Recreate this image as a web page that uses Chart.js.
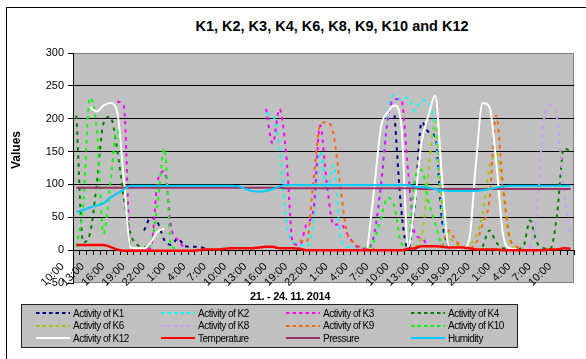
<!DOCTYPE html>
<html>
<head>
<meta charset="utf-8">
<script src="https://cdn.jsdelivr.net/npm/chart.js@4.4.1/dist/chart.umd.min.js"></script>
<style>
  html, body { margin: 0; padding: 0; background: #fff; overflow: hidden; }
  body { width: 586px; height: 359px; position: relative; font-family: "Liberation Sans", Arial, sans-serif; color: #000; }
  .frame { position: absolute; left: 6px; top: 7px; width: 700px; height: 400px; border-left: 1px solid #000; border-top: 1px solid #000; }
  #chart { position: absolute; left: 7px; top: 8px; }
  .chart-title { position: absolute; left: 132px; top: 19px; width: 400px; text-align: center; font-weight: bold; font-size: 14.5px; line-height: 14.5px; white-space: nowrap; }
  .x-title { position: absolute; left: 190px; top: 291px; width: 200px; text-align: center; font-weight: bold; font-size: 11px; line-height: 11px; letter-spacing: -0.3px; white-space: nowrap; }
  .y-title { position: absolute; left: -24px; top: 143px; width: 80px; height: 14px; line-height: 14px; text-align: center; font-weight: bold; font-size: 12px; transform: rotate(-90deg); }
  .legend { position: absolute; left: 21px; top: 304px; width: 495px; height: 42px; background: #c0c0c0; border: 1px solid #222; }
  .legend-item { position: absolute; height: 12px; display: flex; align-items: center; white-space: nowrap; font-size: 10px; letter-spacing: -0.5px; }
  .legend-item span { margin-left: 3px; }
</style>
</head>
<body>
<div class="frame"></div>
<div class="chart-title">K1, K2, K3, K4, K6, K8, K9, K10 and K12</div>
<canvas id="chart" width="579" height="351"></canvas>
<div class="y-title">Values</div>
<div class="x-title">21. - 24. 11. 2014</div>
<div class="legend" id="legend"></div>
<script>
const hours = [
  "10:00", "11:00", "12:00", "13:00", "14:00", "15:00", "16:00", "17:00", "18:00", "19:00",
  "20:00", "21:00", "22:00", "23:00", "0:00", "1:00", "2:00", "3:00", "4:00", "5:00",
  "6:00", "7:00", "8:00", "9:00", "10:00", "11:00", "12:00", "13:00", "14:00", "15:00",
  "16:00", "17:00", "18:00", "19:00", "20:00", "21:00", "22:00", "23:00", "0:00", "1:00",
  "2:00", "3:00", "4:00", "5:00", "6:00", "7:00", "8:00", "9:00", "10:00", "11:00",
  "12:00", "13:00", "14:00", "15:00", "16:00", "17:00", "18:00", "19:00", "20:00", "21:00",
  "22:00", "23:00", "0:00", "1:00", "2:00", "3:00", "4:00", "5:00", "6:00", "7:00",
  "8:00", "9:00", "10:00", "11:00",
];

const k1 = [
  null, null, null, null, null, null, null, null, null, null,
  30, 50, 42, 15, 8, 18, 6, 5, 5, 3,
  null, null, null, null, null, null, null, null, null, null,
  null, null, null, null, null, null, null, null, null, null,
  null, null, null, null, null, null, null, 205, 60, 2,
  70, 195, 180, 172, 45, 2, null, null, null, null,
  null, null, null, null, null, null, null, null, null, null,
  null, null, null, null,
];
const k2 = [
  null, null, null, null, null, null, null, null, null, null,
  null, null, null, null, null, null, null, null, null, null,
  null, null, null, null, null, null, null, null, 208, 205,
  155, 45, 12, 8, 6, 40, 150, 90, 130, 20,
  5, 4, 4, 4, 20, 100, 210, 236, 228, 232,
  212, 228, 225, 180, 60, 3, null, null, null, null,
  null, null, null, null, null, null, null, null, null, null,
  null, null, null, null,
];
const k3 = [
  null, null, null, null, null, null, 226, 220, 3, 2,
  2, 3, 105, 120, 35, 15, 3, null, null, null,
  null, null, null, null, null, null, null, null, 215, 162,
  215, 145, 10, 8, 40, 60, 190, 100, 38, 40,
  25, 10, 2, 2, 25, 100, 200, 230, 228, 120,
  25, 18, 5, null, null, null, null, null, null, null,
  null, null, null, null, null, null, null, null, null, null,
  null, null, null, null,
];
const k4 = [
  205, 12, 25, 100, 193, 203, 155, 80, 25, 8,
  5, 3, null, null, null, null, null, null, null, null,
  null, null, null, null, null, null, null, null, null, null,
  null, null, null, null, null, null, null, null, null, null,
  null, null, null, null, null, null, null, null, null, null,
  null, null, null, null, null, null, null, null, null, null,
  5, 30, 12, 3, 2, 2, 5, 45, 12, 3,
  2, 55, 155, 150,
];
const k6 = [
  null, null, null, null, null, null, null, null, null, null,
  null, null, null, null, null, null, null, null, null, null,
  null, null, null, null, null, null, null, null, null, null,
  null, null, null, null, null, null, null, null, null, null,
  null, null, null, null, null, null, null, null, null, null,
  5, 20, 120, 196, 70, 25, 10, 5, 8, 20,
  55, 125, 148, 90, 15, 3, null, null, null, null,
  null, null, null, null,
];
const k8 = [
  null, null, null, null, null, null, null, null, null, null,
  null, null, null, null, null, null, null, null, null, null,
  null, null, null, null, null, null, null, null, null, null,
  null, null, null, null, null, null, null, null, null, null,
  null, null, null, null, null, null, null, null, null, null,
  null, null, null, null, null, null, null, null, null, null,
  null, null, null, null, null, null, null, 3, 55, 195,
  220, 200, 90, 20,
];
const k9 = [
  null, null, null, null, null, null, null, null, null, null,
  null, null, null, null, null, null, null, null, null, null,
  null, null, null, null, null, null, null, null, null, null,
  null, null, null, 15, 12, 105, 190, 195, 175, 95,
  25, 12, 4, 3, 2, null, null, null, null, null,
  null, null, null, null, 5, 30, 15, 5, 3, 10,
  40, 75, 205, 100, 20, 5, 2, null, null, null,
  null, null, null, null,
];
const k10 = [
  5, 70, 232, 185, 25, 100, 182, 120, 5, 3,
  3, 10, 70, 155, 5, 3, null, null, null, null,
  null, null, null, null, null, null, null, null, null, null,
  null, null, null, null, null, null, null, null, null, null,
  null, null, null, 3, 15, 50, 80, 65, 10, 5,
  110, 122, 75, 40, 8, 3, null, null, null, null,
  null, null, null, null, null, null, null, null, null, null,
  null, null, null, null,
];
const k12 = [
  null, null, 218, 211, 220, 224, 212, 110, 4, 3,
  3, 12, 28, 33, null, null, null, null, null, null,
  null, null, null, null, null, null, null, null, null, null,
  null, null, null, null, null, null, null, null, null, null,
  null, null, null, 3, 95, 188, 210, 220, 190, 5,
  75, 165, 205, 235, 110, 5, 3, 3, 15, 130,
  224, 218, 135, 25, 3, 2, null, null, null, null,
  null, null, null, null,
];
const temperature = [
  8, 8, 8, 8, 8, 5, 1, -1, -1, -1,
  -1, -1, -1, -1, -1, -1, -1, -1, 0, 1,
  1, 1, 2, 3, 3, 3, 3, 4, 5, 5,
  3, 3, 3, 2, 0, 0, 0, 0, 0, 0,
  0, 0, 0, 0, 0, 0, 0, 0, 0, 2,
  3, 6, 6, 6, 5, 4, 4, 4, 3, 1,
  1, 1, 1, 0, 0, 0, 0, 0, 0, 0,
  1, 1, 3, 2,
];
const pressure = [
  95, 95, 95, 95, 95, 95, 95, 95, 95, 95,
  95, 95, 95, 95, 95, 95, 95, 95, 95, 95,
  95, 95, 95, 95, 95, 95, 95, 95, 95, 95,
  95, 94, 94, 94, 94, 94, 94, 94, 94, 94,
  94, 94, 94, 94, 94, 94, 94, 94, 94, 94,
  94, 93, 93, 93, 93, 93, 93, 93, 93, 93,
  93, 93, 93, 93, 93, 93, 93, 93, 93, 93,
  93, 93, 93, 93,
];
const humidity = [
  58, 61, 65, 68, 71, 80, 86, 92, 98, 98,
  98, 98, 98, 98, 98, 98, 98, 98, 98, 98,
  98, 98, 98, 98, 97, 93, 90, 89, 90, 93,
  97, 99, 99, 99, 99, 99, 99, 99, 99, 99,
  99, 99, 99, 99, 99, 99, 99, 99, 99, 99,
  97, 96, 95, 93, 91, 90, 90, 90, 90, 90,
  91, 93, 95, 97, 98, 98, 98, 98, 98, 98,
  98, 98, 98, 98,
];

const seriesLabels = [
  "Activity of K1", "Activity of K2", "Activity of K3", "Activity of K4",
  "Activity of K6", "Activity of K8", "Activity of K9", "Activity of K10",
  "Activity of K12", "Temperature", "Pressure", "Humidity",
];
const seriesData = [k1, k2, k3, k4, k6, k8, k9, k10, k12, temperature, pressure, humidity];
const seriesColors = [
  "#000080", "#00ffff", "#ff00ff", "#008000",
  "#99cc00", "#cc99ff", "#ff6600", "#00ff00",
  "#ffffff", "#ff0000", "#993366", "#00ccff",
];
const seriesDashed = [true, true, true, true, true, true, true, true, false, false, false, false];
const yTicks = [-50, 0, 50, 100, 150, 200, 250, 300];

const fontFamily = '"Liberation Sans", Arial, sans-serif';

const plotBackground = {
  id: "plotBackground",
  beforeDraw(chart) {
    const { ctx, chartArea: a } = chart;
    ctx.save();
    ctx.fillStyle = "#c0c0c0";
    ctx.fillRect(a.left, a.top, a.right - a.left, a.bottom - a.top);
    ctx.strokeStyle = "#808080";
    ctx.lineWidth = 1;
    ctx.strokeRect(a.left + 0.5, a.top + 0.5, a.right - a.left - 1, a.bottom - a.top - 1);
    ctx.restore();
  },
};

function buildDatasets() {
  return seriesData.map((values, i) => ({
    label: seriesLabels[i],
    data: values,
    borderColor: seriesColors[i],
    backgroundColor: seriesColors[i],
    borderWidth: seriesLabels[i] === "Temperature" ? 2.5 : 2,
    borderDash: seriesDashed[i] ? [3.5, 4.5] : [],
    pointRadius: 0,
    fill: false,
    cubicInterpolationMode: "monotone",
    order: seriesData.length - i,
  }));
}

function buildChart(canvas) {
  return new Chart(canvas, {
    type: "line",
    data: {
      labels: hours,
      datasets: buildDatasets(),
    },
    options: {
      responsive: false,
      animation: false,
      devicePixelRatio: 1,
      layout: {
        padding: { top: 45, right: 5, bottom: 76, left: 0 },
      },
      plugins: {
        legend: { display: false },
        title: { display: false },
        tooltip: { enabled: false },
      },
      scales: {
        x: {
          type: "category",
          position: { y: 0 },
          offset: true,
          grid: {
            drawOnChartArea: false,
            drawTicks: true,
            tickLength: 4,
            tickColor: "#000",
            offset: true,
          },
          border: { display: true, color: "#000", width: 1 },
          ticks: {
            autoSkip: false,
            minRotation: 45,
            maxRotation: 45,
            padding: 6,
            labelOffset: -14,
            color: "#000",
            font: { family: fontFamily, size: 11 },
            callback(value, index) {
              return index % 3 === 0 ? hours[index] : "";
            },
          },
        },
        y: {
          min: yTicks[0],
          max: yTicks[yTicks.length - 1],
          afterFit(scale) {
            scale.width = 66;
          },
          afterBuildTicks(scale) {
            scale.ticks = yTicks.map((value) => ({ value }));
          },
          grid: {
            color(context) {
              const v = context.tick && context.tick.value;
              return v === 300 || v === -50 ? "rgba(0,0,0,0)" : "#000";
            },
            tickColor: "#000",
            tickLength: 5,
          },
          border: { display: true, color: "#000", width: 1 },
          ticks: {
            color: "#000",
            padding: 4,
            font: { family: fontFamily, size: 11 },
          },
        },
      },
    },
    plugins: [plotBackground],
  });
}

function buildLegend(chart) {
  const legend = document.getElementById("legend");
  chart.data.datasets.forEach((dataset, i) => {
    const item = document.createElement("div");
    item.className = "legend-item";
    item.style.left = 14 + (i % 4) * 125 + "px";
    item.style.top = 2 + Math.floor(i / 4) * 12.7 + "px";
    const dash = seriesDashed[i] ? ' stroke-dasharray="3.5 3"' : "";
    item.innerHTML =
      `<svg width="34" height="4"><line x1="0" y1="2" x2="34" y2="2" stroke="${dataset.borderColor}" stroke-width="2"${dash}/></svg>` +
      `<span>${dataset.label}</span>`;
    legend.appendChild(item);
  });
}

const chart = buildChart(document.getElementById("chart"));
buildLegend(chart);
</script>
</body>
</html>
